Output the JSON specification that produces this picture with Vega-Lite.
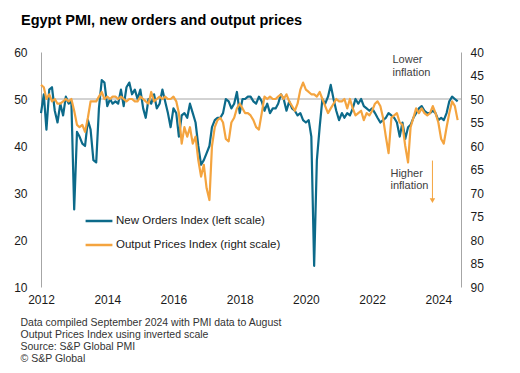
{
  "$schema": "https://vega.github.io/schema/vega-lite/v6.json",
  "width": 420,
  "height": 235,
  "autosize": {"type": "none"},
  "padding": {"left": 41, "top": 52, "right": 59, "bottom": 86},
  "background": "white",
  "config": {"view": {"stroke": null}, "font": "Liberation Sans"},
  "title": {"text": "Egypt PMI, new orders and output prices", "anchor": "start", "frame": "group", "dx": -20, "offset": 7, "baseline": "alphabetic", "fontSize": 14.5, "fontWeight": "bold", "font": "Liberation Sans", "color": "#000000"},
  "data": {"values": [
    {"d":"2012-01-01","no":47,"op":47},{"d":"2012-02-01","no":51,"op":47.5},{"d":"2012-03-01","no":43.5,"op":50},{"d":"2012-04-01","no":52,"op":49},{"d":"2012-05-01","no":52.5,"op":50.5},{"d":"2012-06-01","no":47.5,"op":50},{"d":"2012-07-01","no":45,"op":51},{"d":"2012-08-01","no":49,"op":51},{"d":"2012-09-01","no":46.5,"op":50.5},{"d":"2012-10-01","no":50.5,"op":50},{"d":"2012-11-01","no":49,"op":50.5},{"d":"2012-12-01","no":49.5,"op":50},
    {"d":"2013-01-01","no":26.5,"op":52.5},{"d":"2013-02-01","no":43,"op":55.5},{"d":"2013-03-01","no":42,"op":56},{"d":"2013-04-01","no":40.5,"op":55.5},{"d":"2013-05-01","no":40,"op":57},{"d":"2013-06-01","no":45.5,"op":54},{"d":"2013-07-01","no":43.5,"op":50.5},{"d":"2013-08-01","no":37,"op":50.5},{"d":"2013-09-01","no":36.5,"op":50.5},{"d":"2013-10-01","no":48,"op":49.5},{"d":"2013-11-01","no":54,"op":48.5},{"d":"2013-12-01","no":53.5,"op":50},
    {"d":"2014-01-01","no":48.5,"op":49.5},{"d":"2014-02-01","no":50,"op":50},{"d":"2014-03-01","no":49,"op":49.5},{"d":"2014-04-01","no":49.5,"op":49.5},{"d":"2014-05-01","no":49,"op":50},{"d":"2014-06-01","no":52,"op":49.5},{"d":"2014-07-01","no":48.5,"op":50},{"d":"2014-08-01","no":52.5,"op":50.5},{"d":"2014-09-01","no":53.5,"op":50},{"d":"2014-10-01","no":51,"op":50},{"d":"2014-11-01","no":52,"op":50.5},{"d":"2014-12-01","no":50,"op":50.5},
    {"d":"2015-01-01","no":52,"op":49.5},{"d":"2015-02-01","no":48,"op":50},{"d":"2015-03-01","no":46,"op":50.5},{"d":"2015-04-01","no":50,"op":51},{"d":"2015-05-01","no":49,"op":48.5},{"d":"2015-06-01","no":51,"op":50.5},{"d":"2015-07-01","no":48,"op":50},{"d":"2015-08-01","no":49,"op":49.5},{"d":"2015-09-01","no":52,"op":50},{"d":"2015-10-01","no":49.5,"op":49.5},{"d":"2015-11-01","no":47,"op":50},{"d":"2015-12-01","no":44,"op":50},
    {"d":"2016-01-01","no":48,"op":49.5},{"d":"2016-02-01","no":47,"op":50.5},{"d":"2016-03-01","no":42,"op":53},{"d":"2016-04-01","no":46.5,"op":59.5},{"d":"2016-05-01","no":47,"op":56},{"d":"2016-06-01","no":46,"op":58},{"d":"2016-07-01","no":49,"op":56},{"d":"2016-08-01","no":47,"op":59.5},{"d":"2016-09-01","no":45,"op":58},{"d":"2016-10-01","no":40,"op":63},{"d":"2016-11-01","no":36,"op":66.5},{"d":"2016-12-01","no":37,"op":64},
    {"d":"2017-01-01","no":38.5,"op":69},{"d":"2017-02-01","no":40,"op":71.5},{"d":"2017-03-01","no":44,"op":60},{"d":"2017-04-01","no":45.5,"op":56},{"d":"2017-05-01","no":46,"op":54.5},{"d":"2017-06-01","no":46,"op":54},{"d":"2017-07-01","no":47,"op":55},{"d":"2017-08-01","no":50,"op":58.5},{"d":"2017-09-01","no":49.5,"op":59},{"d":"2017-10-01","no":48,"op":55},{"d":"2017-11-01","no":49,"op":54},{"d":"2017-12-01","no":51.5,"op":52},
    {"d":"2018-01-01","no":47,"op":51},{"d":"2018-02-01","no":50,"op":52},{"d":"2018-03-01","no":50,"op":53},{"d":"2018-04-01","no":50.5,"op":53},{"d":"2018-05-01","no":50.5,"op":53.5},{"d":"2018-06-01","no":49.5,"op":54.5},{"d":"2018-07-01","no":49,"op":56},{"d":"2018-08-01","no":50.5,"op":56.5},{"d":"2018-09-01","no":49.5,"op":53},{"d":"2018-10-01","no":47.5,"op":49.5},{"d":"2018-11-01","no":49,"op":50},{"d":"2018-12-01","no":47,"op":49.5},
    {"d":"2019-01-01","no":48,"op":50},{"d":"2019-02-01","no":48,"op":50},{"d":"2019-03-01","no":49,"op":49.5},{"d":"2019-04-01","no":51,"op":49},{"d":"2019-05-01","no":50,"op":50},{"d":"2019-06-01","no":47.5,"op":49},{"d":"2019-07-01","no":49.5,"op":50.5},{"d":"2019-08-01","no":48,"op":51.5},{"d":"2019-09-01","no":47.5,"op":52.5},{"d":"2019-10-01","no":46.5,"op":51},{"d":"2019-11-01","no":47,"op":48},{"d":"2019-12-01","no":45.5,"op":46.5},
    {"d":"2020-01-01","no":45,"op":48},{"d":"2020-02-01","no":45.5,"op":48.5},{"d":"2020-03-01","no":42,"op":49},{"d":"2020-04-01","no":14.5,"op":49},{"d":"2020-05-01","no":37,"op":49.5},{"d":"2020-06-01","no":44,"op":48.5},{"d":"2020-07-01","no":50,"op":50},{"d":"2020-08-01","no":49,"op":51.5},{"d":"2020-09-01","no":50.5,"op":53},{"d":"2020-10-01","no":53,"op":52},{"d":"2020-11-01","no":50,"op":51},{"d":"2020-12-01","no":47.5,"op":50},
    {"d":"2021-01-01","no":45.5,"op":50.5},{"d":"2021-02-01","no":47,"op":50.5},{"d":"2021-03-01","no":46,"op":50},{"d":"2021-04-01","no":47,"op":52},{"d":"2021-05-01","no":46.5,"op":50},{"d":"2021-06-01","no":48,"op":52},{"d":"2021-07-01","no":50,"op":53.5},{"d":"2021-08-01","no":49,"op":53},{"d":"2021-09-01","no":50,"op":52.5},{"d":"2021-10-01","no":48.5,"op":54.5},{"d":"2021-11-01","no":48,"op":53},{"d":"2021-12-01","no":47.5,"op":53.5},
    {"d":"2022-01-01","no":48,"op":52.5},{"d":"2022-02-01","no":47,"op":51},{"d":"2022-03-01","no":46,"op":50.5},{"d":"2022-04-01","no":45,"op":51.5},{"d":"2022-05-01","no":45.5,"op":54},{"d":"2022-06-01","no":46,"op":58},{"d":"2022-07-01","no":47,"op":61.5},{"d":"2022-08-01","no":46.5,"op":54},{"d":"2022-09-01","no":46,"op":53.5},{"d":"2022-10-01","no":45,"op":53},{"d":"2022-11-01","no":42,"op":55},{"d":"2022-12-01","no":45,"op":55.5},
    {"d":"2023-01-01","no":41.5,"op":60},{"d":"2023-02-01","no":44,"op":63.5},{"d":"2023-03-01","no":44.5,"op":56},{"d":"2023-04-01","no":46,"op":54},{"d":"2023-05-01","no":47,"op":52},{"d":"2023-06-01","no":48,"op":53},{"d":"2023-07-01","no":48.5,"op":52},{"d":"2023-08-01","no":47.5,"op":53},{"d":"2023-09-01","no":47,"op":53.5},{"d":"2023-10-01","no":47,"op":53},{"d":"2023-11-01","no":47.5,"op":51.5},{"d":"2023-12-01","no":47,"op":53},
    {"d":"2024-01-01","no":45.5,"op":55},{"d":"2024-02-01","no":46,"op":58.5},{"d":"2024-03-01","no":45.5,"op":59.5},{"d":"2024-04-01","no":47,"op":56},{"d":"2024-05-01","no":49.5,"op":53},{"d":"2024-06-01","no":50.5,"op":50.5},{"d":"2024-07-01","no":50,"op":51.5},{"d":"2024-08-01","no":49.5,"op":54.5}
  ]},
  "encoding": {
    "x": {
      "field": "d", "type": "temporal",
      "scale": {"domain": [{"year": 2012, "month": 1, "date": 1}, {"year": 2024, "month": 9, "date": 7}]},
      "axis": {
        "format": "%Y", "tickCount": {"interval": "year", "step": 2}, "labelFlush": false, "labelOverlap": false,
        "domain": false, "ticks": false, "grid": false,
        "labelFontSize": 12, "labelColor": "#1a1a1a", "labelPadding": 7, "labelFont": "Liberation Sans",
        "title": ["Data compiled September 2024 with PMI data to August", "Output Prices Index using inverted scale", "Source: S&P Global PMI", "\u00a9 S&P Global"],
        "titleAnchor": "start", "titleAlign": "left", "titleBaseline": "alphabetic",
        "titleX": -21, "titleY": 38, "titleLineHeight": 12,
        "titleFontSize": 10.5, "titleFontWeight": "normal", "titleColor": "#333333", "titleFont": "Liberation Sans"
      }
    }
  },
  "layer": [
    {
      "layer": [
        {
          "data": {"values": [{}]},
          "mark": {"type": "rule", "color": "#a6a6a6", "strokeWidth": 1},
          "encoding": {"x": null, "y": {"datum": 50, "type": "quantitative"}}
        },
        {
          "mark": {"type": "line", "strokeWidth": 2.2, "strokeJoin": "round"},
          "encoding": {
            "y": {
              "field": "no", "type": "quantitative",
              "scale": {"domain": [10, 60], "nice": false, "zero": false},
              "axis": {"orient": "left", "values": [10, 20, 30, 40, 50, 60], "title": null, "grid": false, "ticks": false, "domainColor": "#a6a6a6", "labelFontSize": 12, "labelColor": "#1a1a1a", "labelPadding": 14, "labelFont": "Liberation Sans"}
            },
            "color": {
              "datum": "New Orders Index (left scale)",
              "scale": {"domain": ["New Orders Index (left scale)", "Output Prices Index (right scale)"], "range": ["#0c6a8a", "#f4a43f"]},
              "legend": {
                "title": null, "orient": "none", "legendX": 43, "legendY": 154,
                "symbolType": "stroke", "symbolSize": 720, "symbolStrokeWidth": 2.5,
                "labelFontSize": 11.5, "labelColor": "#1a1a1a", "labelFont": "Liberation Sans", "labelOffset": 2, "labelLimit": 0, "rowPadding": 3
              }
            }
          }
        },
        {
          "transform": [{"filter": {"field": "no", "equal": 14.5}}],
          "mark": {"type": "text", "text": ["Lower", "inflation"], "align": "left", "baseline": "top", "fontSize": 11, "lineHeight": 12.5, "color": "#404040", "font": "Liberation Sans"},
          "encoding": {"x": {"datum": {"year": 2022, "month": 8, "date": 13}, "type": "temporal"}, "y": {"datum": 59.5, "type": "quantitative"}}
        },
        {
          "transform": [{"filter": {"field": "no", "equal": 14.5}}],
          "mark": {"type": "text", "text": ["Higher", "inflation"], "align": "left", "baseline": "top", "fontSize": 11, "lineHeight": 12.5, "color": "#404040", "font": "Liberation Sans"},
          "encoding": {"x": {"datum": {"year": 2022, "month": 7, "date": 22}, "type": "temporal"}, "y": {"datum": 35.4, "type": "quantitative"}}
        },
        {
          "transform": [{"filter": {"field": "no", "equal": 14.5}}],
          "mark": {"type": "rule", "color": "#f4a43f", "strokeWidth": 1},
          "encoding": {"x": {"datum": {"year": 2023, "month": 10, "date": 28}, "type": "temporal"}, "y": {"datum": 36.9, "type": "quantitative"}, "y2": {"datum": 28.6}}
        },
        {
          "transform": [{"filter": {"field": "no", "equal": 14.5}}],
          "mark": {"type": "point", "shape": "triangle-down", "filled": true, "color": "#f4a43f", "size": 30, "opacity": 1},
          "encoding": {"x": {"datum": {"year": 2023, "month": 10, "date": 28}, "type": "temporal"}, "y": {"datum": 28.4, "type": "quantitative"}}
        }
      ]
    },
    {
      "mark": {"type": "line", "strokeWidth": 2.2, "strokeJoin": "round"},
      "encoding": {
        "y": {
          "field": "op", "type": "quantitative",
          "scale": {"domain": [40, 90], "reverse": true, "nice": false, "zero": false},
          "axis": {"orient": "right", "values": [40, 45, 50, 55, 60, 65, 70, 75, 80, 85, 90], "title": null, "grid": false, "ticks": false, "domainColor": "#a6a6a6", "labelFontSize": 12, "labelColor": "#1a1a1a", "labelPadding": 9, "labelFont": "Liberation Sans"}
        },
        "color": {"datum": "Output Prices Index (right scale)"}
      }
    }
  ],
  "resolve": {"scale": {"y": "independent"}}
}
